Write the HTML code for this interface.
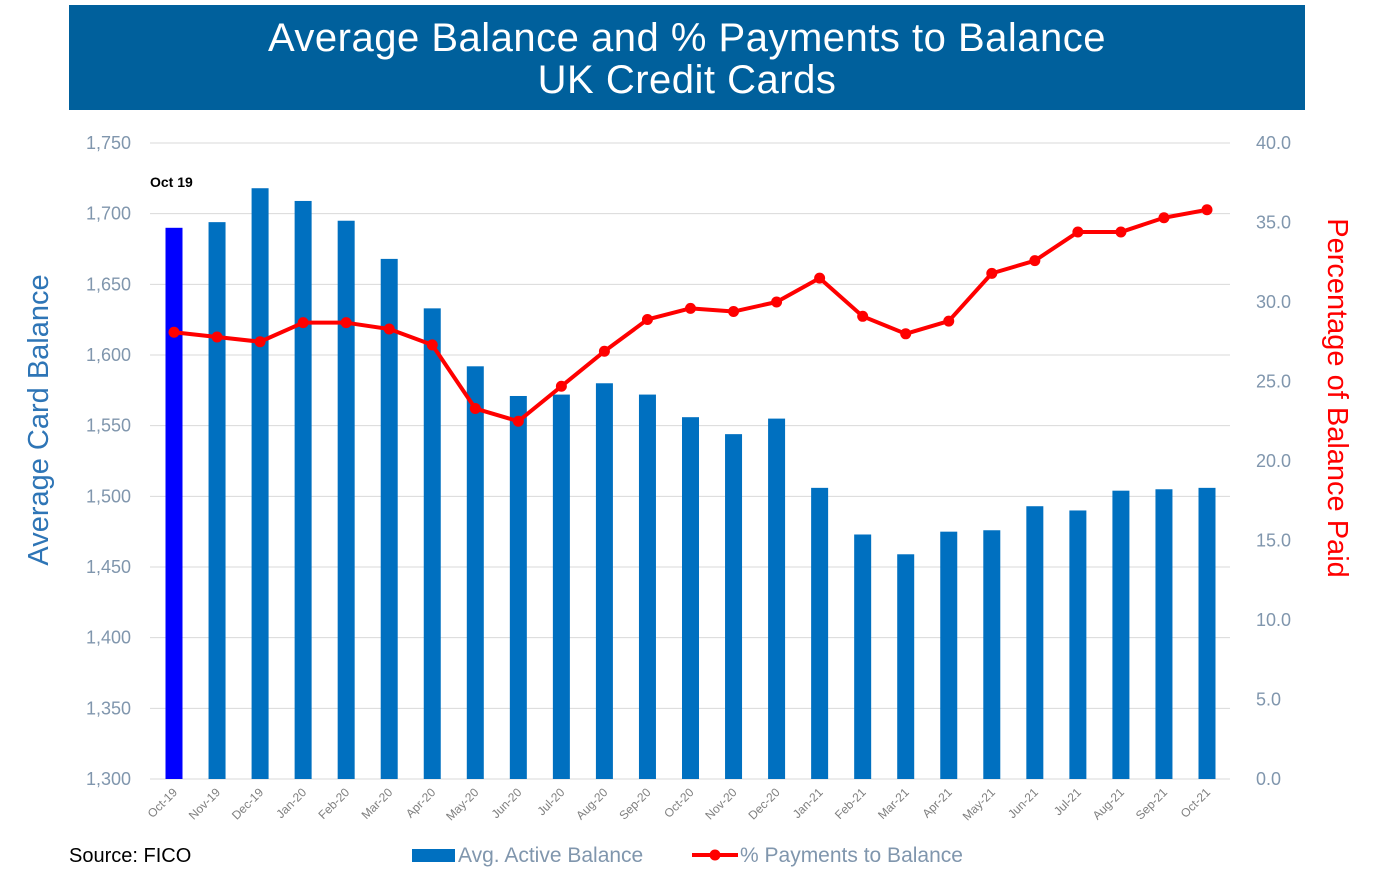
<!DOCTYPE html>
<html><head><meta charset="utf-8"><style>
body{margin:0;background:#fff;font-family:"Liberation Sans",sans-serif;}
#wrap{position:relative;width:1384px;height:892px;overflow:hidden;}
#banner{position:absolute;left:69px;top:5px;width:1236px;height:105px;background:#00609c;color:#fff;text-align:center;font-size:40px;line-height:42px;padding-top:12px;box-sizing:border-box;letter-spacing:0.5px;}
</style></head><body>
<div id="wrap">
<div id="banner">Average Balance and % Payments to Balance<br>UK Credit Cards</div>
<svg id="chart" width="1384" height="892" style="position:absolute;left:0;top:0"></svg>
</div>
<script>
const categories=["Oct-19","Nov-19","Dec-19","Jan-20","Feb-20","Mar-20","Apr-20","May-20","Jun-20","Jul-20","Aug-20","Sep-20","Oct-20","Nov-20","Dec-20","Jan-21","Feb-21","Mar-21","Apr-21","May-21","Jun-21","Jul-21","Aug-21","Sep-21","Oct-21"];
const balances=[1690,1694,1718,1709,1695,1668,1633,1592,1571,1572,1580,1572,1556,1544,1555,1506,1473,1459,1475,1476,1493,1490,1504,1505,1506];
const payments=[28.1,27.8,27.5,28.7,28.7,28.3,27.3,23.3,22.5,24.7,26.9,28.9,29.6,29.4,30.0,31.5,29.1,28.0,28.8,31.8,32.6,34.4,34.4,35.3,35.8];
const leftTicks=["1,300","1,350","1,400","1,450","1,500","1,550","1,600","1,650","1,700","1,750"];
const rightTicks=["0.0","5.0","10.0","15.0","20.0","25.0","30.0","35.0","40.0"];
const svg=document.getElementById('chart');
const NS="http://www.w3.org/2000/svg";
function mk(t,a,txt){const e=document.createElementNS(NS,t);for(const k in a)e.setAttribute(k,a[k]);if(txt!==undefined)e.textContent=txt;svg.appendChild(e);return e;}
const plotTop=143,plotBot=779,x0=174,step=(1207-174)/24;
const yL=v=>plotBot-(v-1300)/450*(plotBot-plotTop);
const yR=v=>plotBot-v/40*(plotBot-plotTop);
const xC=i=>x0+i*step;
leftTicks.forEach((t,i)=>{const v=1300+i*50;const y=yL(v);
 if(i>0){const g=mk('line',{x1:150,x2:1230,y1:y,y2:y,stroke:'#d9d9d9','stroke-width':1});
 
 }
 const l=mk('text',{x:131,y:y+6,'text-anchor':'end','font-size':18,fill:'#8096ad'},t);
 
 });
rightTicks.forEach((t,i)=>{const y=yR(i*5);const l=mk('text',{x:1256,y:y+6,'font-size':18,fill:'#8096ad'},t);
 
 });
const ax=mk('line',{x1:150,x2:1230,y1:plotBot,y2:plotBot,stroke:'#d9d9d9','stroke-width':1});


balances.forEach((v,i)=>{const y=yL(v);const b=mk('rect',{x:xC(i)-8.5,y:y,width:17,height:plotBot-y,fill:i===0?'#0000ff':'#0070c0'});
 
 });
categories.forEach((c,i)=>{const x=xC(i)+4,y=plotBot+14;const t=mk('text',{x:x,y:y,'text-anchor':'end','font-size':12,fill:'#7f7f7f',transform:`rotate(-45 ${x} ${y})`},c);
 
 });
const pts=payments.map((v,i)=>xC(i)+','+yR(v)).join(' ');
const pl=mk('polyline',{points:pts,fill:'none',stroke:'#ff0000','stroke-width':4,'stroke-linejoin':'round'});


payments.forEach((v,i)=>{const c=mk('circle',{cx:xC(i),cy:yR(v),r:5.5,fill:'#ff0000'});
 
 });
const an=mk('text',{x:150,y:187,'font-size':14,'font-weight':'bold',fill:'#000'},'Oct 19');


const lt=mk('text',{x:48,y:420,'text-anchor':'middle','font-size':29,fill:'#2e75b6',transform:'rotate(-90 48 420)'},'Average Card Balance');


const rt=mk('text',{x:1328,y:398,'text-anchor':'middle','font-size':29,fill:'#ff0000',transform:'rotate(90 1328 398)'},'Percentage of Balance Paid');


const src=mk('text',{x:69,y:862,'font-size':20,fill:'#000'},'Source: FICO');


const lb=mk('rect',{x:412,y:849,width:43,height:13,fill:'#0070c0'});


const lbt=mk('text',{x:458,y:862,'font-size':21,fill:'#8096ad'},'Avg. Active Balance');


const ll=mk('line',{x1:692,x2:738,y1:855,y2:855,stroke:'#ff0000','stroke-width':4});


const lc=mk('circle',{cx:715,cy:855,r:5.5,fill:'#ff0000'});


const llt=mk('text',{x:740,y:862,'font-size':21,fill:'#8096ad'},'% Payments to Balance');


</script>
</body></html>
